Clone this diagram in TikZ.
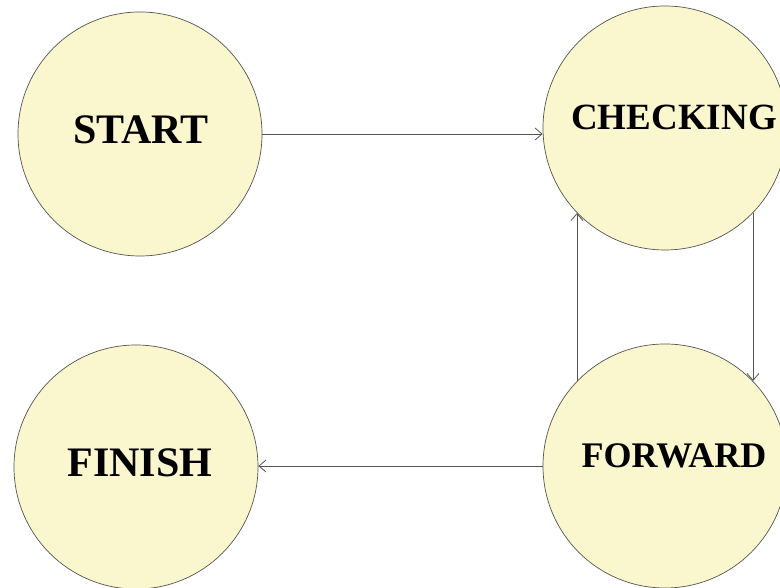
\documentclass[tikz,border=0pt]{standalone}
\usepackage{fontspec}
\setmainfont{Liberation Serif}
\usetikzlibrary{arrows.meta}
\definecolor{stateyellow}{RGB}{250,246,206}
\definecolor{edgegray}{RGB}{85,85,80}

\begin{document}
\begin{tikzpicture}[scale=1.000000,x=1pt,y=1pt]
\useasboundingbox (0.000000, 0.000000) rectangle (780.000000, 588.000000);
\clip (0.000000, 0.000000) rectangle (780.000000, 588.000000);
\fill[color=white] (0.000000, 0.000000) rectangle (780.000000, 588.000000);
% Drawing states
\tikzset{state/.style={circle, draw=edgegray, line width=0.7pt, fill=stateyellow, minimum size=244pt, inner sep=0pt},
         statetext/.style={font=\bfseries\fontsize{#1}{#1}\selectfont, inner sep=0pt},
         arr/.style={draw=edgegray, line width=0.8pt, -{Straight Barb[length=7pt,width=12pt]}}}
\node[state] (start) at (140.000000, 454.000000) {};
\node[state] (check) at (665.000000, 460.000000) {};
\node[state] (finish) at (136.000000, 121.000000) {};
\node[state] (fwd) at (665.000000, 122.000000) {};
% Done with states; drawing labels
\node[statetext=42] (starttxt) at (141.000000, 458.000000) {START};
\node[statetext=37] (checktxt) at (674.000000, 471.000000) {CHECKING};
\node[statetext=42] (finishtxt) at (140.000000, 125.000000) {FINISH};
\node[statetext=36] (fwdtxt) at (674.000000, 132.000000) {FORWARD};
% Done with labels; drawing transitions
\draw[arr] (start.east) -- (start.east -| check.west);
\draw[arr] (check.316) -- (fwd.44);
\draw[arr] (fwd.136) -- (check.224);
\draw[arr] (fwd.west) -- (fwd.west -| finish.east);
% Done with transitions
\end{tikzpicture}
\end{document}
